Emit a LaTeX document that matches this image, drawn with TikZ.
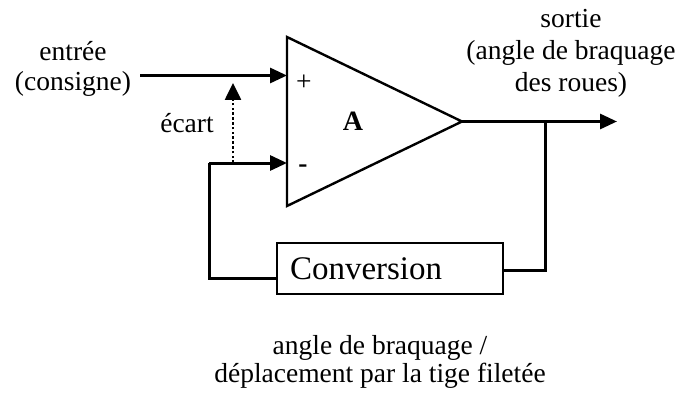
\documentclass[tikz,border=0pt]{standalone}
\usepackage{fontspec}
\setmainfont{Liberation Serif}
\usetikzlibrary{arrows.meta}
\begin{document}
\begin{tikzpicture}[x=1pt,y=-1pt,
  lbl/.style={font=\fontsize{27.5}{30}\selectfont, align=center, inner sep=0pt},
  wire/.style={line width=3pt},
  arr/.style={wire,-{Triangle[length=17pt,width=15pt]}},
  dotarr/.style={line width=2.6pt, dash pattern=on 2.6pt off 2.2pt, -{Triangle[length=17pt,width=16pt]}}]
\useasboundingbox (0,0) rectangle (694,396);
% amplifier
\coordinate (tl) at (287,37);
\coordinate (bl) at (287,206);
\coordinate (ap) at (462,121.5);
\draw[line width=2.4pt, line join=miter] (tl) -- (ap) -- (bl) -- cycle;
\coordinate (inp) at (287,75.5);
\coordinate (inm) at (287,163);
\node[lbl] (plus) at (304,83) {+};
\node[lbl, font=\fontsize{27.5}{30}\selectfont\bfseries] (minus) at (303,169) {-};
\node[lbl, font=\fontsize{28}{30}\selectfont\bfseries] (A) at (353,121) {A};
% input
\node[lbl] (in) at (73,68.5) {entrée\\(consigne)};
\coordinate (ins) at (140,75.5);
\draw[arr] (ins) -- (inp);
% output
\coordinate (outend) at (617,121.5);
\draw[arr] (ap) -- (outend);
\node[lbl, font=\fontsize{27.5}{32}\selectfont] (out) at (571,53.5) {sortie\\(angle de braquage\\des roues)};
% conversion box
\node[draw, line width=2.4pt, minimum width=226pt, minimum height=51pt, inner sep=0pt,
  text width=200pt, align=left, font=\fontsize{33}{36}\selectfont] (conv) at (390,268.5) {Conversion};
\coordinate (tap) at (545,121.5);
\coordinate (fl) at (209,163);
\draw[wire] (tap) |- ([yshift=-2pt]conv.east);
\draw[wire] ([yshift=-10pt]conv.west) -| (fl);
\draw[arr] (fl) -- (inm);
% ecart
\coordinate (e1) at (233,163);
\coordinate (e2) at (233,83);
\draw[dotarr] (e1) -- (e2);
\node[lbl, anchor=base] (ecart) at (187,132) {écart};
% bottom caption
\node[lbl, font=\fontsize{27.5}{27.5}\selectfont] (cap) at (380,362) {angle de braquage /\\déplacement par la tige filetée};
\end{tikzpicture}
\end{document}
